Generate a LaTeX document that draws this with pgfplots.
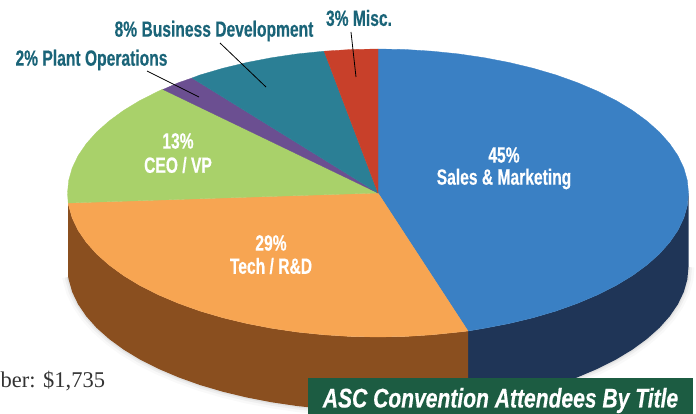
\documentclass[border=0pt]{standalone}
\usepackage{pgfplots}
\usepackage{pgfplotstable}
\pgfplotsset{compat=1.18}
\usepackage{fontspec}
\setmainfont{Liberation Sans}
\newfontfamily\cond[FakeStretch=0.71,FakeBold=0.4]{Liberation Sans}
\newfontfamily\condt[FakeStretch=0.78,FakeBold=0.4]{Liberation Sans}
\newfontfamily\serifx{Liberation Serif}
\definecolor{cblue}{HTML}{3A80C4}
\definecolor{cnavy}{HTML}{1F3557}
\definecolor{cbrown}{HTML}{8A4F1F}
\definecolor{corange}{HTML}{F7A552}
\definecolor{cgreen}{HTML}{A9D16A}
\definecolor{cpurple}{HTML}{6B4F91}
\definecolor{cteal}{HTML}{2B7F95}
\definecolor{cred}{HTML}{C8402A}
\definecolor{clabel}{HTML}{1A6478}
\definecolor{cbox}{HTML}{1C5C42}
\pgfplotstableread{
x y
688.5 267
687.3 279.6
683.8 292
677.9 304.3
669.8 316.2
659.4 327.9
646.9 339
632.4 349.6
615.9 359.6
597.6 368.8
577.6 377.3
556.1 385
533.3 391.7
509.2 397.5
484.2 402.3
458.4 406.1
431.9 408.8
405.1 410.5
378 411
350.9 410.5
324.1 408.8
297.6 406.1
271.8 402.3
246.8 397.5
222.7 391.7
199.9 385
178.4 377.3
158.4 368.8
140.1 359.6
123.6 349.6
109.1 339
96.6 327.9
86.2 316.2
78.1 304.3
72.2 292
68.7 279.6
68.2 277
}\bottomrim
\begin{document}
\begin{tikzpicture}
\useasboundingbox (0,0) rectangle (696pt,414pt);
\begin{axis}[at={(0,0)},anchor=south west,scale only axis,width=696pt,height=414pt,
  xmin=0,xmax=696,ymin=0,ymax=414,y dir=reverse,hide axis,clip=true]
% soft shadow
\addplot[draw=black,opacity=0.025,line width=12pt] table[x=x,y=y] {\bottomrim};
\addplot[draw=black,opacity=0.04,line width=7pt] table[x=x,y=y] {\bottomrim};
\addplot[draw=black,opacity=0.06,line width=3pt] table[x=x,y=y] {\bottomrim};
% navy side
\addplot[fill=cnavy,draw=none] coordinates {
(468 ,331)(484.2,328.3)(509.2,323.5)(533.3,317.7)(556.1,311)(577.6,303.3)(597.6,294.8)(615.9,285.6)(632.4,275.6)(646.9,265)(659.4,253.9)(669.8,242.2)(677.9,230.3)(683.8,218)(687.3,205.6)(688.5,193)
(688.5,267)(687.3,279.6)(683.8,292)(677.9,304.3)(669.8,316.2)(659.4,327.9)(646.9,339)(632.4,349.6)(615.9,359.6)(597.6,368.8)(577.6,377.3)(556.1,385)(533.3,391.7)(509.2,397.5)(484.2,402.3)(468,404.8)
} --cycle;
% brown side
\addplot[fill=cbrown,draw=none] coordinates {
(468,331)(458.4,332.1)(431.9,334.8)(405.1,336.5)(378,337)(350.9,336.5)(324.1,334.8)(297.6,332.1)(271.8,328.3)(246.8,323.5)(222.7,317.7)(199.9,311)(178.4,303.3)(158.4,294.8)(140.1,285.6)(123.6,275.6)(109.1,265)(96.6,253.9)(86.2,242.2)(78.1,230.3)(72.2,218)(68.7,205.6)(68.2,203)
(68.2,277)(68.7,279.6)(72.2,292)(78.1,304.3)(86.2,316.2)(96.6,327.9)(109.1,339)(123.6,349.6)(140.1,359.6)(158.4,368.8)(178.4,377.3)(199.9,385)(222.7,391.7)(246.8,397.5)(271.8,402.3)(297.6,406.1)(324.1,408.8)(350.9,410.5)(378,411)(405.1,410.5)(431.9,408.8)(458.4,406.1)(468,404.8)
} --cycle;
% blue, 45%
\addplot[fill=cblue,draw=cblue,line width=0.3pt] coordinates {
(378,193)(378,49)(405.1,49.5)(431.9,51.2)(458.4,53.9)(484.2,57.7)(509.2,62.5)(533.3,68.3)(556.1,75)(577.6,82.7)(597.6,91.2)(615.9,100.4)(632.4,110.4)(646.9,121)(659.4,132.1)(669.8,143.8)(677.9,155.7)(683.8,168)(687.3,180.4)(688.5,193)(687.3,205.6)(683.8,218)(677.9,230.3)(669.8,242.2)(659.4,253.9)(646.9,265)(632.4,275.6)(615.9,285.6)(597.6,294.8)(577.6,303.3)(556.1,311)(533.3,317.7)(509.2,323.5)(484.2,328.3)(468,331)
} --cycle;
% orange, 29%
\addplot[fill=corange,draw=corange,line width=0.3pt] coordinates {
(378,193)(468,331)(458.4,332.1)(431.9,334.8)(405.1,336.5)(378,337)(350.9,336.5)(324.1,334.8)(297.6,332.1)(271.8,328.3)(246.8,323.5)(222.7,317.7)(199.9,311)(178.4,303.3)(158.4,294.8)(140.1,285.6)(123.6,275.6)(109.1,265)(96.6,253.9)(86.2,242.2)(78.1,230.3)(72.2,218)(68.7,205.6)(68.2,203)
} --cycle;
% green, 13%
\addplot[fill=cgreen,draw=cgreen,line width=0.3pt] coordinates {
(378,193)(68.2,203)(67.5,193)(68.7,180.4)(72.2,168)(78.1,155.7)(86.2,143.8)(96.6,132.1)(109.1,121)(123.6,110.4)(140.1,100.4)(158.4,91.2)(163,89)
} --cycle;
% purple, 2%
\addplot[fill=cpurple,draw=cpurple,line width=0.3pt] coordinates {
(378,193)(163,89.5)(178.4,82.7)(192,78)
} --cycle;
% teal, 8%
\addplot[fill=cteal,draw=cteal,line width=0.3pt] coordinates {
(378,193)(192,78)(199.9,75)(222.7,68.3)(246.8,62.5)(271.8,57.7)(297.6,53.9)(324.1,51.2)
} --cycle;
% red, 3%
\addplot[fill=cred,draw=cred,line width=0.3pt] coordinates {
(378,193)(324.1,51.2)(350.9,49.5)(378,49)
} --cycle;
% leaders
\addplot[draw=black,line width=0.8pt] coordinates {(351,32)(356,77)};
\addplot[draw=black,line width=0.8pt] coordinates {(220,43)(266,87)};
\addplot[draw=black,line width=0.8pt] coordinates {(147,71)(199,97)};
% title band
\addplot[fill=cbox,draw=none] coordinates {(308,378)(693,378)(693,414)(308,414)} --cycle;
\end{axis}
\begin{axis}[at={(0,0)},anchor=south west,scale only axis,width=696pt,height=414pt,
  xmin=0,xmax=696,ymin=0,ymax=414,y dir=reverse,hide axis,clip=false]
\def\lab#1{\fontsize{22}{24}\selectfont\cond\bfseries #1}
\node[text=clabel,anchor=center,inner sep=0pt] at (axis cs:214,31) {\lab{8\% Business Development}};
\node[text=clabel,anchor=center,inner sep=0pt] at (axis cs:91.5,60) {\lab{2\% Plant Operations}};
\node[text=clabel,anchor=center,inner sep=0pt] at (axis cs:359,18) {\lab{3\% Misc.}};
\node[text=white,anchor=center,inner sep=0pt] at (axis cs:504,155) {\lab{45\%}};
\node[text=white,anchor=center,inner sep=0pt] at (axis cs:504,179) {\lab{Sales \& Marketing}};
\node[text=white,anchor=center,inner sep=0pt] at (axis cs:271,243) {\lab{29\%}};
\node[text=white,anchor=center,inner sep=0pt] at (axis cs:271,266) {\lab{Tech / R\&D}};
\node[text=white,anchor=center,inner sep=0pt] at (axis cs:178,141) {\lab{13\%}};
\node[text=white,anchor=center,inner sep=0pt] at (axis cs:178,165) {\lab{CEO / VP}};
\node[text=white,anchor=center,inner sep=0pt] at (axis cs:500.5,400.5) {\fontsize{27}{28}\selectfont\condt\bfseries\itshape ASC Convention Attendees By Title};
\node[text=black!80,anchor=west,inner sep=0pt] at (axis cs:0.5,381) {\fontsize{22.5}{26}\selectfont\serifx ber: \$1,735};
\end{axis}
\end{tikzpicture}
\end{document}
